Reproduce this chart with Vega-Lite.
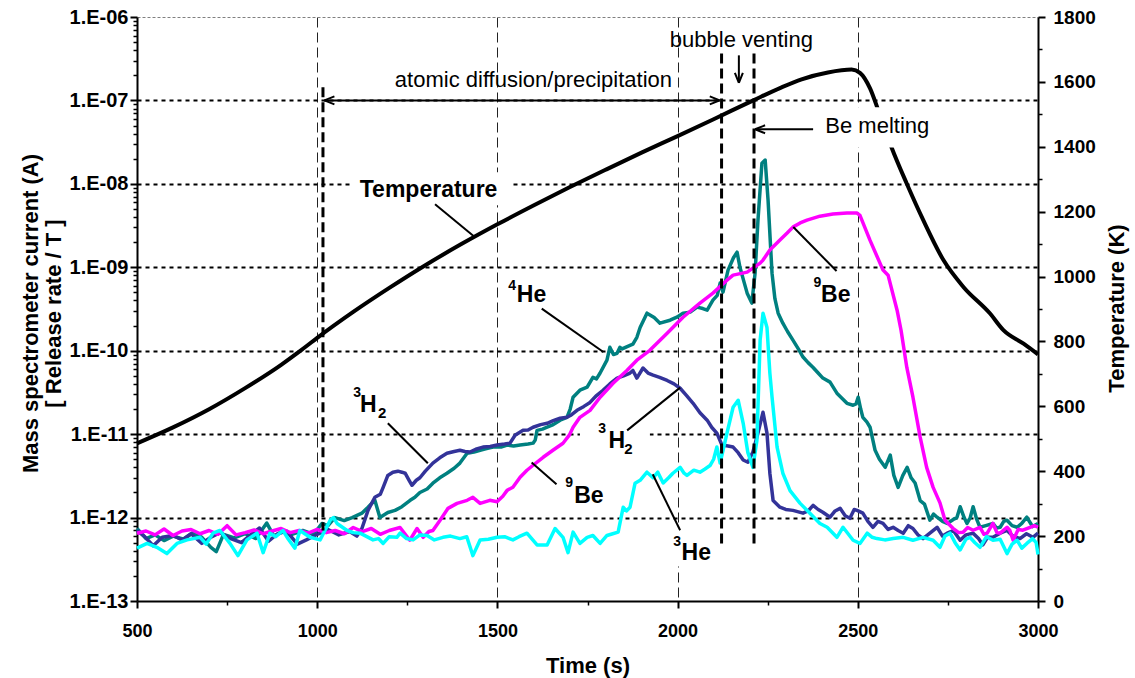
{
  "$schema": "https://vega.github.io/schema/vega-lite/v6.json",
  "width": 901,
  "height": 584,
  "autosize": "none",
  "padding": {"left": 137, "top": 17, "right": 97, "bottom": 77},
  "background": "white",
  "config": {
    "view": {"stroke": null},
    "axis": {
      "labelFont": "Liberation Sans",
      "titleFont": "Liberation Sans",
      "labelColor": "black",
      "titleColor": "black",
      "tickColor": "black",
      "domainColor": "black"
    }
  },
  "datasets": {
    "he4": [
      {"t":500,"v":7.4e-13},{"t":525,"v":5.6e-13},{"t":550,"v":6.2e-13},{"t":575,"v":5.3e-13},{"t":600,"v":6.0e-13},{"t":630,"v":5.5e-13},{"t":655,"v":6.6e-13},{"t":680,"v":5.8e-13},{"t":705,"v":4.4e-13},{"t":720,"v":3.9e-13},{"t":740,"v":6.3e-13},{"t":770,"v":5.7e-13},{"t":800,"v":6.4e-13},{"t":830,"v":5.6e-13},{"t":860,"v":8.6e-13},{"t":880,"v":6.0e-13},{"t":905,"v":6.8e-13},{"t":930,"v":6.3e-13},{"t":960,"v":7.0e-13},{"t":990,"v":6.3e-13},
      {"t":1013,"v":8.5e-13},{"t":1030,"v":8.0e-13},{"t":1049,"v":1.0e-12},{"t":1075,"v":9.2e-13},{"t":1097,"v":1.0e-12},{"t":1124,"v":1.13e-12},{"t":1141,"v":1.33e-12},{"t":1160,"v":1.61e-12},{"t":1174,"v":1.0e-12},{"t":1196,"v":1.15e-12},{"t":1216,"v":1.22e-12},{"t":1235,"v":1.35e-12},{"t":1257,"v":1.6e-12},{"t":1271,"v":1.75e-12},{"t":1285,"v":2.0e-12},{"t":1305,"v":2.2e-12},{"t":1321,"v":2.58e-12},{"t":1340,"v":3.0e-12},{"t":1360,"v":3.4e-12},{"t":1380,"v":3.9e-12},{"t":1396,"v":4.5e-12},{"t":1416,"v":5.9e-12},{"t":1435,"v":6.1e-12},{"t":1452,"v":6.4e-12},{"t":1470,"v":6.7e-12},{"t":1488,"v":7.0e-12},{"t":1510,"v":7.0e-12},{"t":1527,"v":7.4e-12},{"t":1545,"v":7.2e-12},{"t":1563,"v":7.4e-12},{"t":1585,"v":7.6e-12},{"t":1599,"v":7.8e-12},{"t":1605,"v":8.5e-12},{"t":1610,"v":1.11e-11},{"t":1625,"v":1.15e-11},{"t":1638,"v":1.21e-11},{"t":1655,"v":1.3e-11},{"t":1674,"v":1.47e-11},{"t":1693,"v":1.59e-11},{"t":1702,"v":2.0e-11},{"t":1710,"v":2.77e-11},{"t":1729,"v":3.36e-11},{"t":1749,"v":3.65e-11},{"t":1765,"v":4.8e-11},{"t":1775,"v":4.6e-11},{"t":1785,"v":5.4e-11},{"t":1804,"v":7.7e-11},{"t":1812,"v":1.1e-10},{"t":1822,"v":9.0e-11},{"t":1832,"v":9.3e-11},{"t":1840,"v":1.1e-10},{"t":1846,"v":1.05e-10},{"t":1860,"v":1.12e-10},{"t":1876,"v":1.2e-10},{"t":1887,"v":1.45e-10},{"t":1896,"v":1.9e-10},{"t":1915,"v":2.82e-10},{"t":1935,"v":2.5e-10},{"t":1951,"v":2.14e-10},{"t":1979,"v":2.32e-10},{"t":1998,"v":2.52e-10},
      {"t":2015,"v":2.82e-10},{"t":2035,"v":2.9e-10},{"t":2054,"v":3.33e-10},{"t":2070,"v":3.2e-10},{"t":2082,"v":3.06e-10},{"t":2098,"v":4.04e-10},{"t":2110,"v":4.6e-10},{"t":2118,"v":6.46e-10},{"t":2126,"v":5.04e-10},{"t":2140,"v":9.25e-10},{"t":2155,"v":1.3e-9},{"t":2165,"v":1.52e-9},{"t":2173,"v":1.0e-9},{"t":2185,"v":6.5e-10},{"t":2193,"v":4.9e-10},{"t":2206,"v":3.72e-10},{"t":2215,"v":8.5e-10},{"t":2223,"v":3.68e-9},{"t":2234,"v":1.77e-8},{"t":2243,"v":1.93e-8},{"t":2251,"v":6.4e-9},{"t":2262,"v":8.5e-10},{"t":2270,"v":4.2e-10},{"t":2279,"v":2.82e-10},{"t":2292,"v":2.14e-10},{"t":2305,"v":1.7e-10},{"t":2320,"v":1.34e-10},{"t":2335,"v":1.05e-10},{"t":2348,"v":8.4e-11},{"t":2362,"v":7.2e-11},{"t":2376,"v":6.3e-11},{"t":2390,"v":5.4e-11},{"t":2403,"v":4.7e-11},{"t":2423,"v":4.2e-11},{"t":2442,"v":3.1e-11},{"t":2456,"v":2.7e-11},{"t":2470,"v":2.34e-11},{"t":2487,"v":2.22e-11},{"t":2495,"v":2.3e-11},{"t":2501,"v":2.77e-11},{"t":2508,"v":2.0e-11},{"t":2514,"v":1.59e-11},{"t":2525,"v":1.4e-11},{"t":2534,"v":1.21e-11},{"t":2548,"v":6.4e-12},{"t":2560,"v":5.0e-12},{"t":2576,"v":4.0e-12},{"t":2590,"v":5.6e-12},{"t":2600,"v":3.2e-12},{"t":2612,"v":2.3e-12},{"t":2625,"v":3.2e-12},{"t":2637,"v":4.0e-12},{"t":2648,"v":3.0e-12},{"t":2659,"v":2.6e-12},{"t":2673,"v":1.6e-12},{"t":2685,"v":1.45e-12},{"t":2700,"v":9.3e-13},{"t":2710,"v":1.1e-12},{"t":2720,"v":1.01e-12},{"t":2735,"v":9.0e-13},{"t":2748,"v":8.5e-13},{"t":2765,"v":9.5e-13},{"t":2775,"v":1.0e-12},{"t":2784,"v":1.35e-12},{"t":2795,"v":1.0e-12},{"t":2803,"v":8.5e-13},{"t":2812,"v":1.0e-12},{"t":2820,"v":1.35e-12},{"t":2830,"v":9.5e-13},{"t":2839,"v":7.65e-13},{"t":2855,"v":8.0e-13},{"t":2875,"v":8.5e-13},{"t":2885,"v":7.5e-13},{"t":2895,"v":7.65e-13},{"t":2905,"v":9.0e-13},{"t":2914,"v":9.3e-13},{"t":2928,"v":8.0e-13},{"t":2942,"v":7.65e-13},{"t":2955,"v":8.5e-13},{"t":2969,"v":1.01e-12},{"t":2985,"v":7.8e-13},{"t":3000,"v":8.5e-13}
    ],
    "h2": [
      {"t":500,"v":7.0e-13},{"t":520,"v":6.0e-13},{"t":545,"v":4.6e-13},{"t":570,"v":5.8e-13},{"t":600,"v":6.1e-13},{"t":625,"v":5.4e-13},{"t":650,"v":6.4e-13},{"t":680,"v":4.9e-13},{"t":705,"v":5.8e-13},{"t":730,"v":6.6e-13},{"t":760,"v":5.6e-13},{"t":790,"v":5.0e-13},{"t":815,"v":6.2e-13},{"t":840,"v":7.5e-13},{"t":865,"v":5.2e-13},{"t":890,"v":6.4e-13},{"t":915,"v":6.9e-13},{"t":945,"v":4.8e-13},{"t":970,"v":5.4e-13},{"t":1000,"v":6.3e-13},
      {"t":1030,"v":7.2e-13},{"t":1060,"v":6.2e-13},{"t":1090,"v":6.8e-13},{"t":1110,"v":6.0e-13},{"t":1124,"v":7.4e-13},{"t":1141,"v":1.22e-12},{"t":1160,"v":1.75e-12},{"t":1175,"v":1.9e-12},{"t":1183,"v":2.3e-12},{"t":1196,"v":3.2e-12},{"t":1210,"v":3.5e-12},{"t":1224,"v":3.6e-12},{"t":1235,"v":3.5e-12},{"t":1244,"v":3.4e-12},{"t":1255,"v":2.8e-12},{"t":1263,"v":2.44e-12},{"t":1275,"v":2.8e-12},{"t":1285,"v":3.0e-12},{"t":1300,"v":3.6e-12},{"t":1321,"v":4.5e-12},{"t":1340,"v":5.2e-12},{"t":1360,"v":5.9e-12},{"t":1380,"v":6.2e-12},{"t":1396,"v":6.4e-12},{"t":1410,"v":6.2e-12},{"t":1424,"v":6.1e-12},{"t":1440,"v":6.6e-12},{"t":1460,"v":7.0e-12},{"t":1480,"v":7.1e-12},{"t":1499,"v":7.4e-12},{"t":1520,"v":7.6e-12},{"t":1535,"v":7.8e-12},{"t":1549,"v":9.7e-12},{"t":1560,"v":1.04e-11},{"t":1571,"v":1.11e-11},{"t":1585,"v":1.12e-11},{"t":1599,"v":1.21e-11},{"t":1620,"v":1.3e-11},{"t":1638,"v":1.35e-11},{"t":1655,"v":1.45e-11},{"t":1674,"v":1.55e-11},{"t":1693,"v":1.59e-11},{"t":1705,"v":1.7e-11},{"t":1721,"v":1.93e-11},{"t":1740,"v":2.15e-11},{"t":1757,"v":2.4e-11},{"t":1775,"v":2.9e-11},{"t":1793,"v":3.36e-11},{"t":1812,"v":4.0e-11},{"t":1832,"v":4.7e-11},{"t":1850,"v":5.0e-11},{"t":1868,"v":5.4e-11},{"t":1876,"v":5.8e-11},{"t":1887,"v":4.7e-11},{"t":1904,"v":6.2e-11},{"t":1918,"v":5.4e-11},{"t":1932,"v":5.1e-11},{"t":1950,"v":4.8e-11},{"t":1971,"v":4.4e-11},{"t":1990,"v":4.0e-11},
      {"t":2007,"v":3.55e-11},{"t":2025,"v":2.9e-11},{"t":2043,"v":2.34e-11},{"t":2062,"v":1.8e-11},{"t":2082,"v":1.47e-11},{"t":2095,"v":1.2e-11},{"t":2109,"v":1.03e-11},{"t":2123,"v":7.4e-12},{"t":2140,"v":7.2e-12},{"t":2154,"v":7.0e-12},{"t":2168,"v":6.0e-12},{"t":2182,"v":4.9e-12},{"t":2195,"v":4.6e-12},{"t":2209,"v":6.1e-12},{"t":2223,"v":1.03e-11},{"t":2237,"v":1.83e-11},{"t":2248,"v":1.03e-11},{"t":2256,"v":3.4e-12},{"t":2265,"v":1.6e-12},{"t":2284,"v":1.33e-12},{"t":2300,"v":1.25e-12},{"t":2320,"v":1.22e-12},{"t":2348,"v":1.13e-12},{"t":2362,"v":1.2e-12},{"t":2376,"v":1.4e-12},{"t":2390,"v":1.25e-12},{"t":2403,"v":1.16e-12},{"t":2423,"v":1.01e-12},{"t":2437,"v":1.2e-12},{"t":2451,"v":1.29e-12},{"t":2465,"v":1.05e-12},{"t":2478,"v":9.8e-13},{"t":2490,"v":1.25e-12},{"t":2498,"v":1.22e-12},{"t":2514,"v":1.13e-12},{"t":2528,"v":9.0e-13},{"t":2542,"v":7.65e-13},{"t":2556,"v":9.0e-13},{"t":2570,"v":8.5e-13},{"t":2584,"v":7.2e-13},{"t":2598,"v":7.65e-13},{"t":2612,"v":7.0e-13},{"t":2626,"v":6.5e-13},{"t":2640,"v":8.0e-13},{"t":2653,"v":7.4e-13},{"t":2667,"v":6.2e-13},{"t":2681,"v":5.6e-13},{"t":2700,"v":6.5e-13},{"t":2720,"v":7.65e-13},{"t":2735,"v":6.0e-13},{"t":2748,"v":6.5e-13},{"t":2765,"v":7.0e-13},{"t":2784,"v":5.35e-13},{"t":2800,"v":6.2e-13},{"t":2820,"v":6.5e-13},{"t":2835,"v":5.6e-13},{"t":2847,"v":4.7e-13},{"t":2860,"v":5.8e-13},{"t":2875,"v":5.8e-13},{"t":2895,"v":6.5e-13},{"t":2914,"v":7.0e-13},{"t":2930,"v":6.0e-13},{"t":2950,"v":5.6e-13},{"t":2968,"v":6.4e-13},{"t":2986,"v":5.8e-13},{"t":3000,"v":6.5e-13}
    ],
    "be9": [
      {"t":500,"v":6.5e-13},{"t":525,"v":6.9e-13},{"t":550,"v":6.2e-13},{"t":575,"v":7.3e-13},{"t":600,"v":6.1e-13},{"t":625,"v":6.9e-13},{"t":650,"v":7.2e-13},{"t":675,"v":6.4e-13},{"t":700,"v":7.0e-13},{"t":725,"v":6.3e-13},{"t":750,"v":8.0e-13},{"t":775,"v":6.2e-13},{"t":800,"v":6.6e-13},{"t":825,"v":7.1e-13},{"t":850,"v":6.4e-13},{"t":875,"v":6.9e-13},{"t":900,"v":7.4e-13},{"t":925,"v":6.6e-13},{"t":950,"v":7.0e-13},{"t":975,"v":6.5e-13},
      {"t":1000,"v":7.2e-13},{"t":1025,"v":6.6e-13},{"t":1050,"v":7.0e-13},{"t":1075,"v":6.4e-13},{"t":1100,"v":7.6e-13},{"t":1125,"v":6.8e-13},{"t":1150,"v":7.4e-13},{"t":1175,"v":6.3e-13},{"t":1200,"v":7.0e-13},{"t":1230,"v":7.6e-13},{"t":1257,"v":5.35e-13},{"t":1277,"v":7.4e-13},{"t":1294,"v":5.8e-13},{"t":1310,"v":6.8e-13},{"t":1321,"v":7.0e-13},{"t":1341,"v":9.3e-13},{"t":1363,"v":1.29e-12},{"t":1388,"v":1.48e-12},{"t":1416,"v":1.61e-12},{"t":1432,"v":1.75e-12},{"t":1452,"v":1.48e-12},{"t":1479,"v":1.61e-12},{"t":1499,"v":1.55e-12},{"t":1515,"v":1.8e-12},{"t":1527,"v":2.12e-12},{"t":1543,"v":2.31e-12},{"t":1563,"v":3.04e-12},{"t":1582,"v":3.69e-12},{"t":1599,"v":4.24e-12},{"t":1627,"v":5.28e-12},{"t":1654,"v":6.41e-12},{"t":1682,"v":7.78e-12},{"t":1700,"v":9.8e-12},{"t":1710,"v":1.21e-11},{"t":1729,"v":1.59e-11},{"t":1757,"v":1.93e-11},{"t":1785,"v":2.77e-11},{"t":1821,"v":4.07e-11},{"t":1860,"v":5.83e-11},{"t":1887,"v":7.7e-11},{"t":1923,"v":1.01e-10},{"t":1971,"v":1.62e-10},
      {"t":2015,"v":2.52e-10},{"t":2062,"v":3.72e-10},{"t":2098,"v":4.9e-10},{"t":2137,"v":7.0e-10},{"t":2154,"v":8.05e-10},{"t":2193,"v":8.75e-10},{"t":2229,"v":1.12e-9},{"t":2237,"v":1.22e-9},{"t":2256,"v":1.61e-9},{"t":2284,"v":2.12e-9},{"t":2304,"v":2.57e-9},{"t":2320,"v":3.03e-9},{"t":2340,"v":3.4e-9},{"t":2359,"v":3.68e-9},{"t":2395,"v":4.1e-9},{"t":2431,"v":4.35e-9},{"t":2470,"v":4.47e-9},{"t":2498,"v":4.47e-9},{"t":2506,"v":4.2e-9},{"t":2534,"v":2.1e-9},{"t":2570,"v":9.25e-10},{"t":2584,"v":8.05e-10},{"t":2609,"v":3.06e-10},{"t":2620,"v":1.76e-10},{"t":2636,"v":6.3e-11},{"t":2653,"v":2.77e-11},{"t":2673,"v":9.2e-12},{"t":2691,"v":4.0e-12},{"t":2709,"v":2.3e-12},{"t":2728,"v":1.5e-12},{"t":2742,"v":9.3e-13},{"t":2764,"v":7.44e-13},{"t":2780,"v":6.6e-13},{"t":2792,"v":6.67e-13},{"t":2805,"v":7.6e-13},{"t":2820,"v":7.05e-13},{"t":2839,"v":7.65e-13},{"t":2850,"v":6.3e-13},{"t":2859,"v":6.5e-13},{"t":2875,"v":8.5e-13},{"t":2886,"v":6.6e-13},{"t":2895,"v":6.5e-13},{"t":2914,"v":7.65e-13},{"t":2922,"v":7.0e-13},{"t":2931,"v":5.35e-13},{"t":2945,"v":7.2e-13},{"t":2958,"v":7.05e-13},{"t":2978,"v":7.65e-13},{"t":2990,"v":8.0e-13},{"t":3000,"v":7.65e-13}
    ],
    "he3": [
      {"t":500,"v":4.3e-13},{"t":528,"v":4.9e-13},{"t":555,"v":4.4e-13},{"t":583,"v":3.7e-13},{"t":611,"v":4.9e-13},{"t":639,"v":5.4e-13},{"t":675,"v":5.8e-13},{"t":692,"v":4.8e-13},{"t":711,"v":6.5e-13},{"t":730,"v":7.0e-13},{"t":758,"v":4.9e-13},{"t":780,"v":3.5e-13},{"t":805,"v":5.4e-13},{"t":833,"v":6.5e-13},{"t":850,"v":3.8e-13},{"t":869,"v":6.5e-13},{"t":885,"v":5.9e-13},{"t":905,"v":7.0e-13},{"t":920,"v":5.5e-13},{"t":938,"v":4.3e-13},{"t":952,"v":7.0e-13},{"t":980,"v":5.8e-13},
      {"t":1008,"v":5.4e-13},{"t":1025,"v":7.5e-13},{"t":1036,"v":9.3e-13},{"t":1045,"v":1.0e-12},{"t":1055,"v":8.5e-13},{"t":1083,"v":7.0e-13},{"t":1100,"v":6.6e-13},{"t":1119,"v":6.5e-13},{"t":1135,"v":6.0e-13},{"t":1155,"v":5.4e-13},{"t":1170,"v":5.6e-13},{"t":1183,"v":4.9e-13},{"t":1200,"v":5.9e-13},{"t":1221,"v":5.8e-13},{"t":1230,"v":6.5e-13},{"t":1248,"v":5.6e-13},{"t":1266,"v":5.4e-13},{"t":1285,"v":6.2e-13},{"t":1305,"v":6.1e-13},{"t":1325,"v":5.4e-13},{"t":1349,"v":5.8e-13},{"t":1370,"v":6.0e-13},{"t":1396,"v":5.6e-13},{"t":1415,"v":5.9e-13},{"t":1432,"v":3.5e-13},{"t":1452,"v":5.4e-13},{"t":1475,"v":5.5e-13},{"t":1499,"v":5.8e-13},{"t":1520,"v":5.9e-13},{"t":1543,"v":5.4e-13},{"t":1560,"v":5.9e-13},{"t":1582,"v":6.5e-13},{"t":1610,"v":4.7e-13},{"t":1638,"v":4.7e-13},{"t":1660,"v":7.4e-13},{"t":1682,"v":5.8e-13},{"t":1696,"v":3.8e-13},{"t":1710,"v":6.7e-13},{"t":1729,"v":4.9e-13},{"t":1749,"v":5.8e-13},{"t":1765,"v":6.1e-13},{"t":1785,"v":4.9e-13},{"t":1804,"v":6.1e-13},{"t":1820,"v":6.4e-13},{"t":1835,"v":6.7e-13},{"t":1849,"v":1.33e-12},{"t":1858,"v":1.2e-12},{"t":1868,"v":1.33e-12},{"t":1882,"v":2.58e-12},{"t":1896,"v":2.8e-12},{"t":1915,"v":3.5e-12},{"t":1932,"v":3.0e-12},{"t":1945,"v":3.5e-12},{"t":1960,"v":2.6e-12},{"t":1975,"v":3.0e-12},{"t":1987,"v":3.4e-12},
      {"t":2007,"v":4.0e-12},{"t":2018,"v":3.4e-12},{"t":2026,"v":3.2e-12},{"t":2045,"v":3.7e-12},{"t":2062,"v":3.5e-12},{"t":2075,"v":3.8e-12},{"t":2090,"v":4.2e-12},{"t":2100,"v":5.0e-12},{"t":2109,"v":7.0e-12},{"t":2118,"v":4.5e-12},{"t":2137,"v":1.03e-11},{"t":2154,"v":2.1e-11},{"t":2168,"v":2.55e-11},{"t":2182,"v":1.35e-11},{"t":2195,"v":6.0e-12},{"t":2209,"v":4.0e-12},{"t":2220,"v":8.4e-12},{"t":2229,"v":1.34e-10},{"t":2237,"v":2.82e-10},{"t":2248,"v":1.9e-10},{"t":2256,"v":5.4e-11},{"t":2262,"v":2.8e-11},{"t":2276,"v":7.0e-12},{"t":2292,"v":3.4e-12},{"t":2312,"v":2.1e-12},{"t":2340,"v":1.48e-12},{"t":2367,"v":1.13e-12},{"t":2395,"v":8.5e-13},{"t":2415,"v":7.65e-13},{"t":2442,"v":5.8e-13},{"t":2459,"v":7.65e-13},{"t":2487,"v":5.35e-13},{"t":2506,"v":4.9e-13},{"t":2526,"v":6.5e-13},{"t":2540,"v":5.8e-13},{"t":2553,"v":5.6e-13},{"t":2575,"v":5.4e-13},{"t":2598,"v":5.6e-13},{"t":2626,"v":5.8e-13},{"t":2653,"v":5.35e-13},{"t":2681,"v":5.8e-13},{"t":2709,"v":5.35e-13},{"t":2728,"v":4.4e-13},{"t":2742,"v":6.0e-13},{"t":2756,"v":6.5e-13},{"t":2770,"v":5.0e-13},{"t":2784,"v":4.1e-13},{"t":2800,"v":5.5e-13},{"t":2811,"v":5.8e-13},{"t":2825,"v":5.0e-13},{"t":2839,"v":4.4e-13},{"t":2857,"v":5.9e-13},{"t":2875,"v":5.35e-13},{"t":2895,"v":5.5e-13},{"t":2914,"v":3.7e-13},{"t":2928,"v":4.8e-13},{"t":2942,"v":5.35e-13},{"t":2955,"v":4.3e-13},{"t":2969,"v":4.9e-13},{"t":2985,"v":5.6e-13},{"t":2995,"v":5.0e-13},{"t":3000,"v":3.6e-13}
    ],
    "temperature": [
      {"t":500,"k":486},{"t":600,"k":535},{"t":700,"k":591},{"t":800,"k":656},{"t":900,"k":728},{"t":952,"k":770},{"t":1000,"k":811},{"t":1100,"k":891},{"t":1200,"k":965},{"t":1300,"k":1035},{"t":1400,"k":1100},{"t":1500,"k":1161},{"t":1600,"k":1219},{"t":1700,"k":1275},{"t":1800,"k":1329},{"t":1900,"k":1382},{"t":2000,"k":1433},{"t":2100,"k":1485},{"t":2210,"k":1543},{"t":2284,"k":1581},{"t":2344,"k":1608},{"t":2417,"k":1629},{"t":2483,"k":1638},{"t":2506,"k":1628},{"t":2534,"k":1580},{"t":2557,"k":1512},{"t":2594,"k":1397},{"t":2636,"k":1286},{"t":2682,"k":1173},{"t":2738,"k":1050},{"t":2793,"k":968},{"t":2867,"k":886},{"t":2904,"k":835},{"t":2960,"k":793},{"t":3000,"k":760}
    ],
    "meltBox": [
      {"t":2381,"t2":2714,"k":1398,"k2":1522}
    ],
    "boxes": [
      {"t":1097,"t2":1540,"v":1.38e-8,"v2":5.53e-9},
      {"t":1729,"t2":1923,"v":1.39e-11,"v2":5.58e-12},
      {"t":1979,"t2":2107,"v":8.3e-13,"v2":2.6e-13}
    ],
    "leaders": [
      {"t":1327,"v":5.69e-9,"t2":1438,"v2":2.29e-9},
      {"t":1623,"v":3.2e-10,"t2":1794,"v2":9.66e-11},
      {"t":1196,"v":1.35e-11,"t2":1307,"v2":4.48e-12},
      {"t":1860,"v":1.11e-11,"t2":2007,"v2":3.61e-11},
      {"t":1595,"v":4.56e-12,"t2":1664,"v2":2.51e-12},
      {"t":1931,"v":3.3e-12,"t2":2007,"v2":7.05e-13},
      {"t":2321,"v":3.04e-9,"t2":2441,"v2":9.01e-10}
    ],
    "shafts": [
      {"t":1020,"v":1e-7,"t2":2117,"v2":1e-7},
      {"t":2170,"v":3.47e-7,"t2":2170,"v2":1.7e-7},
      {"t":2376,"v":4.51e-8,"t2":2218,"v2":4.51e-8}
    ],
    "phases": [
      {"t":1016,"v":1.44e-7,"v2":7.0e-13},
      {"t":2122,"v":3.64e-7,"v2":4.66e-13},
      {"t":2212,"v":3.64e-7,"v2":4.66e-13}
    ],
    "arrowheads": [
      {"dir":"left","t":1020,"v":1e-7},
      {"dir":"right","t":2117,"v":1e-7},
      {"dir":"down","t":2170,"v":1.62e-7},
      {"dir":"left","t":2215,"v":4.51e-8}
    ],
    "labels": [
      {"kind":"big","text":"He","t":1554,"v":3.84e-10},
      {"kind":"big","text":"H","t":1119,"v":1.84e-11},
      {"kind":"big","text":"H","t":1808,"v":6.9e-12},
      {"kind":"big","text":"Be","t":1713,"v":1.51e-12},
      {"kind":"big","text":"He","t":2011,"v":3.08e-13},
      {"kind":"big","text":"Be","t":2398,"v":3.84e-10},
      {"kind":"sup","text":"4","t":1530,"v":5.3e-10},
      {"kind":"sup","text":"3","t":1100,"v":2.79e-11},
      {"kind":"sup","text":"3","t":1780,"v":1.02e-11},
      {"kind":"sup","text":"9","t":1688,"v":2.33e-12},
      {"kind":"sup","text":"3","t":1988,"v":4.53e-13},
      {"kind":"sup","text":"9","t":2377,"v":5.81e-10},
      {"kind":"sub","text":"2","t":1169,"v":1.55e-11},
      {"kind":"sub","text":"2","t":1852,"v":5.85e-12},
      {"kind":"curve","text":"Temperature","t":1309,"v":6.97e-9},
      {"kind":"note","text":"atomic diffusion/precipitation","t":1600,"v":1.43e-7},
      {"kind":"note","text":"bubble venting","t":2177,"v":4.37e-7},
      {"kind":"note","text":"Be melting","t":2554,"v":4.07e-8}
    ]
  },
  "layer": [
    {
      "encoding": {
        "x": {
          "field": "t", "type": "quantitative",
          "scale": {"domain": [500, 3000], "nice": false, "zero": false},
          "axis": {
            "orient": "bottom",
            "values": [500, 1000, 1500, 2000, 2500, 3000],
            "format": "d",
            "labelFontSize": 18, "labelFontWeight": "bold",
            "labelPadding": 14, "labelFlush": false, "labelOverlap": false,
            "tickSize": 7, "tickWidth": 2,
            "domainWidth": 2,
            "grid": true, "gridColor": "#222222", "gridWidth": 1, "gridDash": [10, 5],
            "gridOpacity": {"condition": {"test": "datum.value <= 500 || datum.value >= 3000", "value": 0}, "value": 1},
            "title": "Time (s)", "titleFontSize": 22, "titleFontWeight": "bold",
            "titleY": 71, "titleBaseline": "alphabetic"
          }
        },
        "y": {
          "field": "v", "type": "quantitative",
          "scale": {"type": "log", "domain": [1e-13, 1e-6], "nice": false},
          "axis": {
            "orient": "left",
            "values": [1e-13, 1e-12, 1e-11, 1e-10, 1e-9, 1e-8, 1e-7, 1e-6],
            "labelExpr": "'1.E-' + (round(-log(datum.value) / LN10) < 10 ? '0' : '') + round(-log(datum.value) / LN10)",
            "labelFontSize": 20, "labelFontWeight": "bold",
            "labelPadding": 2, "labelOverlap": false,
            "tickSize": 7, "tickWidth": 2,
            "domainWidth": 2,
            "grid": true,
            "gridColor": {"condition": {"test": "datum.value > 5e-7", "value": "#808080"}, "value": "black"},
            "gridDash": {"condition": {"test": "datum.value > 5e-7", "value": [3, 2]}, "value": [4, 4]},
            "gridWidth": {"condition": {"test": "datum.value > 5e-7", "value": 1}, "value": 2},
            "gridOpacity": {"condition": {"test": "datum.value < 5e-13", "value": 0}, "value": 1},
            "title": ["Mass spectrometer current (A)", "[ Release rate / T ]"],
            "titleFontSize": 22, "titleFontWeight": "bold",
            "titleAngle": 270, "titleAlign": "center", "titleBaseline": "alphabetic",
            "titleLineHeight": 23, "titleX": -100, "titleY": 296
          }
        }
      },
      "layer": [
        {"data": {"name": "he4"}, "mark": {"type": "line", "color": "#008080", "strokeWidth": 3.5, "strokeJoin": "round"}},
        {"data": {"name": "h2"}, "mark": {"type": "line", "color": "#333399", "strokeWidth": 3.5, "strokeJoin": "round"}},
        {"data": {"name": "be9"}, "mark": {"type": "line", "color": "#FF00FF", "strokeWidth": 3.5, "strokeJoin": "round"}},
        {"data": {"name": "he3"}, "mark": {"type": "line", "color": "#00FFFF", "strokeWidth": 3.5, "strokeJoin": "round"}}
      ]
    },
    {
      "data": {"name": "temperature"},
      "mark": {"type": "line", "color": "black", "strokeWidth": 4, "interpolate": "monotone"},
      "encoding": {
        "x": {"field": "t", "type": "quantitative", "scale": {"domain": [500, 3000], "nice": false, "zero": false}, "axis": null},
        "y": {
          "field": "k", "type": "quantitative",
          "scale": {"domain": [0, 1800], "nice": false, "zero": false},
          "axis": {
            "orient": "right",
            "values": [0, 200, 400, 600, 800, 1000, 1200, 1400, 1600, 1800],
            "format": "d",
            "labelFontSize": 19, "labelFontWeight": "bold",
            "labelPadding": 8, "labelOverlap": false,
            "tickSize": 7, "tickWidth": 2,
            "domainWidth": 2,
            "grid": false,
            "title": "Temperature (K)", "titleFontSize": 22, "titleFontWeight": "bold",
            "titleAngle": 270, "titleAlign": "center", "titleBaseline": "alphabetic",
            "titleX": 85, "titleY": 291
          }
        }
      }
    },
    {
      "data": {"name": "meltBox"},
      "mark": {"type": "rect", "fill": "white"},
      "encoding": {
        "x": {"field": "t", "type": "quantitative", "scale": {"domain": [500, 3000], "nice": false, "zero": false}, "axis": null},
        "x2": {"field": "t2"},
        "y": {
          "field": "k", "type": "quantitative",
          "scale": {"domain": [0, 1800], "nice": false, "zero": false},
          "axis": {
            "orient": "right",
            "values": [100, 300, 500, 700, 900, 1100, 1300, 1500, 1700],
            "labels": false, "domain": false, "grid": false,
            "tickSize": 4, "tickWidth": 1.5, "title": null
          }
        },
        "y2": {"field": "k2"}
      }
    },
    {
      "encoding": {
        "x": {
          "field": "t", "type": "quantitative",
          "scale": {"domain": [500, 3000], "nice": false, "zero": false},
          "axis": {
            "orient": "bottom",
            "values": [750, 1250, 1750, 2250, 2750],
            "labels": false, "domain": false, "grid": false,
            "tickSize": 4, "tickWidth": 1.5, "title": null
          }
        },
        "y": {
          "field": "v", "type": "quantitative",
          "scale": {"type": "log", "domain": [1e-13, 1e-6], "nice": false},
          "axis": {
            "orient": "left",
            "values": [2e-13,3e-13,4e-13,5e-13,6e-13,7e-13,8e-13,9e-13,2e-12,3e-12,4e-12,5e-12,6e-12,7e-12,8e-12,9e-12,2e-11,3e-11,4e-11,5e-11,6e-11,7e-11,8e-11,9e-11,2e-10,3e-10,4e-10,5e-10,6e-10,7e-10,8e-10,9e-10,2e-9,3e-9,4e-9,5e-9,6e-9,7e-9,8e-9,9e-9,2e-8,3e-8,4e-8,5e-8,6e-8,7e-8,8e-8,9e-8,2e-7,3e-7,4e-7,5e-7,6e-7,7e-7,8e-7,9e-7],
            "labels": false, "domain": false, "grid": false,
            "tickSize": 4, "tickWidth": 1.5, "title": null
          }
        }
      },
      "layer": [
        {"data": {"name": "boxes"}, "mark": {"type": "rect", "fill": "white"}, "encoding": {"x2": {"field": "t2"}, "y2": {"field": "v2"}}},
        {"data": {"name": "leaders"}, "mark": {"type": "rule", "color": "black", "strokeWidth": 2}, "encoding": {"x2": {"field": "t2"}, "y2": {"field": "v2"}}},
        {"data": {"name": "shafts"}, "mark": {"type": "rule", "color": "black", "strokeWidth": 2}, "encoding": {"x2": {"field": "t2"}, "y2": {"field": "v2"}}},
        {"data": {"name": "phases"}, "mark": {"type": "rule", "color": "black", "strokeWidth": 3, "strokeDash": [10, 5]}, "encoding": {"y2": {"field": "v2"}}},
        {"data": {"name": "arrowheads"}, "transform": [{"filter": "datum.dir == 'left'"}], "mark": {"type": "point", "shape": "M0,0L2,-0.8M0,0L2,0.8", "size": 100, "filled": false, "stroke": "black", "strokeWidth": 2, "opacity": 1}},
        {"data": {"name": "arrowheads"}, "transform": [{"filter": "datum.dir == 'right'"}], "mark": {"type": "point", "shape": "M0,0L-2,-0.8M0,0L-2,0.8", "size": 100, "filled": false, "stroke": "black", "strokeWidth": 2, "opacity": 1}},
        {"data": {"name": "arrowheads"}, "transform": [{"filter": "datum.dir == 'down'"}], "mark": {"type": "point", "shape": "M0,0L-0.8,-2M0,0L0.8,-2", "size": 100, "filled": false, "stroke": "black", "strokeWidth": 2, "opacity": 1}},
        {"data": {"name": "labels"}, "transform": [{"filter": "datum.kind == 'big'"}], "mark": {"type": "text", "font": "Liberation Sans", "fontSize": 23, "fontWeight": "bold", "align": "left", "baseline": "alphabetic", "color": "black"}, "encoding": {"text": {"field": "text"}}},
        {"data": {"name": "labels"}, "transform": [{"filter": "datum.kind == 'sup'"}], "mark": {"type": "text", "font": "Liberation Sans", "fontSize": 14, "fontWeight": "bold", "align": "left", "baseline": "alphabetic", "color": "black"}, "encoding": {"text": {"field": "text"}}},
        {"data": {"name": "labels"}, "transform": [{"filter": "datum.kind == 'sub'"}], "mark": {"type": "text", "font": "Liberation Sans", "fontSize": 15, "fontWeight": "bold", "align": "left", "baseline": "alphabetic", "color": "black"}, "encoding": {"text": {"field": "text"}}},
        {"data": {"name": "labels"}, "transform": [{"filter": "datum.kind == 'curve'"}], "mark": {"type": "text", "font": "Liberation Sans", "fontSize": 23, "fontWeight": "bold", "align": "center", "baseline": "alphabetic", "color": "black"}, "encoding": {"text": {"field": "text"}}},
        {"data": {"name": "labels"}, "transform": [{"filter": "datum.kind == 'note'"}], "mark": {"type": "text", "font": "Liberation Sans", "fontSize": 22, "align": "center", "baseline": "alphabetic", "color": "black"}, "encoding": {"text": {"field": "text"}}}
      ]
    }
  ],
  "resolve": {
    "scale": {"x": "independent", "y": "independent"},
    "axis": {"x": "independent", "y": "independent"}
  }
}
